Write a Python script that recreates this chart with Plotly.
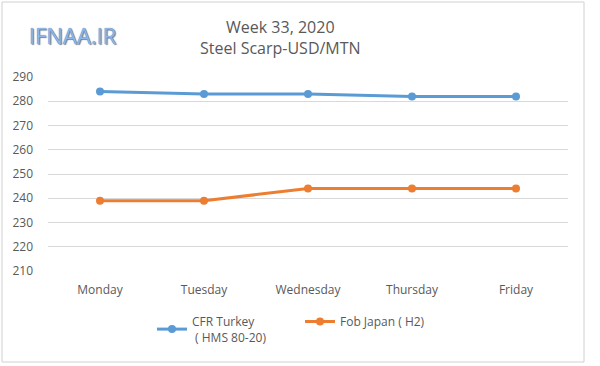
import plotly.graph_objects as go

days = ["Monday", "Tuesday", "Wednesday", "Thursday", "Friday"]
turkey = [284, 283, 283, 282, 282]
japan = [239, 239, 244, 244, 244]
y_ticks = [210, 220, 230, 240, 250, 260, 270, 280, 290]
series_names = ["CFR Turkey<br> ( HMS 80-20)", "Fob Japan ( H2)"]

W, H = 600, 366
ml, mr, mt, mb = 48, 32, 77, 95
pw, ph = W - ml - mr, H - mt - mb

def px(x):
    return (x - ml) / pw

def py(y):
    return 1 - (y - mt) / ph

fig = go.Figure()
fig.add_trace(go.Scatter(x=days, y=turkey, name=series_names[0], mode="lines+markers",
                         line=dict(color="#5B9BD5", width=3), marker=dict(size=8, color="#5B9BD5"),
                         legend="legend"))
fig.add_trace(go.Scatter(x=days, y=japan, name=series_names[1], mode="lines+markers",
                         line=dict(color="#ED7D31", width=3), marker=dict(size=8, color="#ED7D31"),
                         legend="legend2"))

legend_common = dict(orientation="h", xanchor="left", yanchor="top",
                     font=dict(size=12, color="#595959"), itemwidth=30,
                     bgcolor="rgba(0,0,0,0)")

fig.update_layout(
    width=W, height=H,
    margin=dict(l=ml, r=mr, t=mt, b=mb, autoexpand=False),
    paper_bgcolor="white", plot_bgcolor="white",
    font=dict(family="Open Sans, DejaVu Sans, sans-serif", color="#595959", size=12),
    xaxis=dict(type="category", range=[-0.5, 4.5], showgrid=False, showline=False,
               ticks="", tickfont=dict(size=12, color="#595959"), ticklabelstandoff=10),
    yaxis=dict(range=[210, 290], tickvals=y_ticks, showgrid=True, gridcolor="#D9D9D9",
               gridwidth=1, zeroline=False, showline=False, ticks="",
               tickfont=dict(size=12, color="#595959"), ticklabelstandoff=14),
    showlegend=True,
    legend=dict(x=px(152), y=py(307), **legend_common),
    legend2=dict(x=px(300), y=py(307), **legend_common),
    shapes=[dict(type="rect", xref="paper", yref="paper",
                 x0=px(2), x1=px(584), y0=py(362), y1=py(2),
                 line=dict(color="#D0D0D0", width=1), layer="below")],
    annotations=[
        dict(text="Week 33, 2020<br>Steel Scarp-USD/MTN", xref="paper", yref="paper",
             x=px(280), y=py(37), xanchor="center", yanchor="middle", showarrow=False,
             font=dict(size=16, color="#595959")),
        dict(text="IFNAA.IR", xref="paper", yref="paper",
             x=px(27), y=py(35), xanchor="left", yanchor="middle", showarrow=False,
             font=dict(size=22, color="#8DB6EA", family="Open Sans, DejaVu Sans, sans-serif",
                       shadow="0 0 1px #3F5F8C, 1px 1px 1px #7A8799")),
    ],
)

fig.write_html("out.html", config={"displayModeBar": False},
               post_script="document.body.style.margin='0';document.body.style.padding='0';")
